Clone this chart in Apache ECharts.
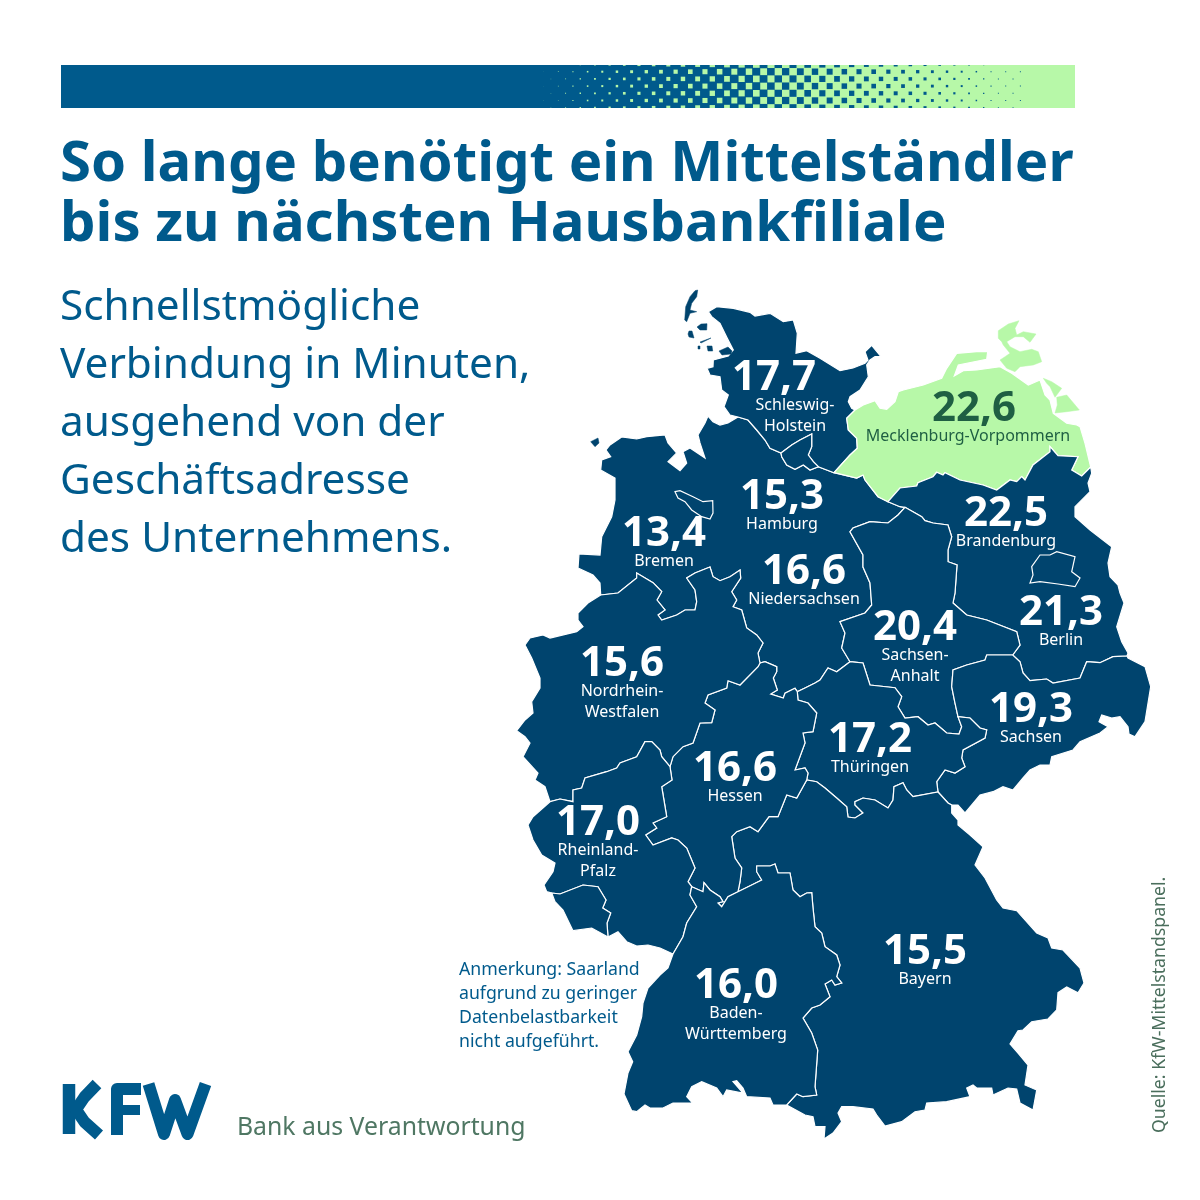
<!DOCTYPE html>
<html><head><meta charset="utf-8">
<style>html,body{margin:0;padding:0;background:#fff}#c{width:1200px;height:1200px}</style>
<script src="https://cdn.jsdelivr.net/npm/echarts@6/dist/echarts.min.js"></script>
</head><body><div id="c"></div>
<script>
// ---- data ----
const regionNames = ['Schleswig-Holstein','Mecklenburg-Vorpommern','Hamburg','Brandenburg','Bremen','Niedersachsen','Sachsen-Anhalt','Berlin','Nordrhein-Westfalen','Sachsen','Thüringen','Hessen','Rheinland-Pfalz','Bayern','Baden-Württemberg'];
const regionValues = [17.7,22.6,15.3,22.5,13.4,16.6,20.4,21.3,15.6,19.3,17.2,16.6,17.0,15.5,16.0];
const regionLines = {'Schleswig-Holstein':['Schleswig-','Holstein'],'Sachsen-Anhalt':['Sachsen-','Anhalt'],'Nordrhein-Westfalen':['Nordrhein-','Westfalen'],'Rheinland-Pfalz':['Rheinland-','Pfalz'],'Baden-Württemberg':['Baden-','Württemberg']};
const titleLines = ['So lange benötigt ein Mittelständler','bis zu nächsten Hausbankfiliale'];
const subtitleLines = ['Schnellstmögliche','Verbindung in Minuten,','ausgehend von der','Geschäftsadresse','des Unternehmens.'];
const noteLines = ['Anmerkung: Saarland','aufgrund zu geringer','Datenbelastbarkeit','nicht aufgeführt.'];
const sourceText = 'Quelle: KfW-Mittelstandspanel.';
const claimText = 'Bank aus Verantwortung';

// ---- map geometry: shared borders ----
const coastSH=[[738,417],[730,415],[724,406.7],[728.3,395],[721.7,390],[720,376.7],[710,375],[707,368.3],[713,366.7],[713.3,360],[728.3,356],[733.3,350],[727.3,338.3],[720,323.3],[711.7,316.7],[708.3,311.7],[716.7,306.7],[733.3,308.3],[750,312.3],[755,316],[770,313.3],[783.3,321.7],[793.3,320],[797.3,333.3],[796,353.3],[806.7,350.7],[820,358.3],[840,370.7],[853,368],[865,363.3],[868,360],[865,351.7],[871.7,345.3],[881,356.7],[875,356.7],[870,360],[866.7,365],[868.3,376.7],[860,390],[850,396.7],[848.3,401.7],[851.7,408.3],[855,410]];
const shMv=[[855,410],[846.7,418.3],[848.3,430],[856.7,438.3],[857.3,448.3],[850,455],[834,472.7]];
const shNdsW=[[738,417],[748,420],[756.7,430],[765,440],[770,448.3],[781,453]];
const hamN=[[781,453],[791.7,445],[800,440],[811.7,434],[811.7,446.7],[808.3,455],[813.3,461.7],[818.3,466.7]];
const hamS=[[818.3,466.7],[810,470],[803.3,465],[795,469.3],[786.7,465],[781.7,456.7],[781,453]];
const shNdsE=[[818.3,466.7],[834,472.7]];
const coastNds=[[738,417],[728,423],[720,425],[713,421.7],[708,416],[705,423],[698,435],[700,443],[705,458],[690,448],[683,451.7],[686.7,463],[680,470.7],[668,461.7],[676.7,453],[668,443],[665,435],[646.7,436.7],[636.7,439],[621.7,437],[610,445],[606,450],[610.7,456.7],[601.7,460],[600.7,470],[615,478],[615,500],[611.7,516.7],[601.7,536.7],[600,555],[579,554],[578,568],[593,575],[600,583],[600.7,595]];
const ndsNrw=[[600.7,595],[618,593],[636.7,578],[636.7,573],[643,576.7],[653,582.7],[661.7,591.7],[657,600],[665,610],[658,615],[661.7,620],[676.7,615],[685,610],[695,610],[696.7,601.7],[695,590],[686.7,578],[695,573],[710,567],[713,576.7],[720,580.7],[730,576.7],[740,570],[740.7,578],[731.7,591.7],[736.7,600],[733,606.7],[741.7,610],[746.7,628],[756.7,635],[763,643],[758,653],[760,663]];
const ndsHe=[[760,663],[765,661.7],[776.7,666.7],[776.7,671.7],[773.3,678],[777.3,690],[770.7,694],[783.3,698],[785,693.3],[795,688.3],[797.3,691.7]];
const ndsTh=[[797.3,691.7],[805,688],[815,683],[820,680],[828,668],[836.7,671.7],[850,661.7]];
const ndsSt=[[850,661.7],[841.7,648],[845,633],[840,621.7],[865,613],[871.7,605],[870,583],[863,567],[863,555],[850,531.7],[853,528],[870,521.7],[888,523],[898,515],[905,507.3]];
const ndsBb=[[905,507.3],[900,506.7],[888,501.7]];
const ndsMv=[[834,472.7],[856.7,478],[863,475],[865,480],[878,496.7],[888,501.7]];
const mvBb=[[888,501.7],[900,488],[916.7,486],[918,482.7],[933,476.7],[936.7,472.3],[943,475],[945,472.7],[960,480],[983,485],[996.7,490],[1010,480],[1016.7,481.7],[1021.7,476.7],[1025,480],[1033,465],[1050,451.7],[1050,446.7],[1058,455.7],[1078,456.7],[1071.7,470],[1081.7,476],[1090.7,467]];
const coastMv=[[1090.7,467],[1085,443.3],[1080,426.7],[1076.7,425],[1066.7,423.3],[1053.3,413.3],[1050,400],[1045,395],[1040,380],[1028.3,385],[1011.7,373.3],[1000,366.7],[976.7,370],[963.3,370.7],[954.3,376],[958.3,365],[986.7,359.3],[987.7,351.7],[976.7,351.7],[956.7,353.3],[946.7,368.3],[941.7,378.3],[923.3,385],[903.3,390],[898.3,391.7],[895,401.7],[886.7,409.3],[880,408.3],[875,400.7],[863.3,405],[855,410]];
const ruegen=[[998.3,330.7],[1008.3,324],[1019,320.7],[1015,328.3],[1016.7,335],[1023.3,331.7],[1036,334],[1030,342.3],[1023.3,336.7],[1015,336.7],[1006.7,341.7],[1010,346.7],[1020,351.7],[1031.7,349.3],[1038.3,351.7],[1041.7,361.7],[1033.3,365],[1020,366.7],[1015,371.7],[1006.7,368.3],[1000,360],[1005,356.7],[1010,353.3],[1003.3,345],[1001.7,341.7],[998.3,338.3]];
const usedomA=[[1043.3,378.3],[1051.7,381.7],[1061.7,388.3],[1055,397.3],[1050,386.7],[1046.7,383.3]];
const usedomB=[[1056.7,397.3],[1066.7,395],[1079.3,410],[1066.7,411.7],[1055,413],[1057.3,405]];
const coastBbE=[[1090.7,467],[1091.7,473.3],[1088,483],[1090,491.7],[1075,506.7],[1075,516.7],[1090,530],[1111.7,546.7],[1108,563],[1110,576.7],[1118,585],[1120,593],[1124,603],[1116.7,626.7],[1121.7,641.7],[1128,653],[1127,656]];
const snBb=[[1127,656],[1113,656.7],[1100,662.7],[1086.7,661.7],[1080,678],[1053,683],[1046.7,679],[1030,680.7],[1023,673],[1020,661.7],[1012.7,655]];
const bbSt=[[905,507.3],[921.7,516.7],[925,520.7],[933,523],[948,525],[951.7,536.7],[948,550],[948,561.7],[957,565],[955,593],[953,603],[966.7,615],[986.7,620],[1016.7,631.7],[1020,645],[1012.7,655]];
const snSt=[[1012.7,655],[986.7,655],[985,660],[966.7,665],[953,670],[951.7,686.7],[955,703],[958,716.7]];
const stTh=[[850,661.7],[863,663],[870,685],[895,687.7],[901.7,696.7],[898,706.7],[905,718],[918,716.7],[928,725],[935,723],[946.7,733],[959,734],[961.7,726.7],[958,716.7]];
const thSn=[[958,716.7],[970,718],[980,728],[986.7,730],[985,738],[963,750],[961.7,758],[965,766.7],[955,773],[945,770],[936.7,781.7],[938,792]];
const snBy=[[938,792],[948,803],[951.7,805]];
const coastSn=[[951.7,805],[958,805],[965,813],[980,795],[993,791.7],[1003,786.7],[1013,790],[1023,778],[1030,770],[1040,765],[1050,765],[1051.7,756.7],[1073,750],[1080,741.7],[1100,733],[1108,726.7],[1099,721.7],[1101.7,715],[1111.7,718],[1120,716.7],[1128,726.7],[1129,734],[1135,736.7],[1145,721.7],[1150.7,686.7],[1145,666.7],[1128,658],[1127,656]];
const coastBy=[[951.7,805],[951.7,813],[958,820],[958,825],[970,835],[983,846.7],[975,865],[985,878],[996.7,900],[1003,908],[1016.7,910.7],[1036.7,933],[1048,938],[1051.7,948],[1063,950],[1080,968],[1084,983],[1078,992.7],[1066.7,987],[1058,992.7],[1056.7,1010],[1048,1019],[1031.7,1021.7],[1023,1030],[1018,1030.7],[1010,1044],[1018,1053],[1028,1065],[1025,1085],[1036.7,1090],[1033,1110],[1020,1103],[1016.7,1089],[1008,1088],[993,1095],[991.7,1088],[976.7,1088],[973,1085],[966.7,1088],[970,1096.7],[946.7,1101.7],[926.7,1103],[925,1110],[915,1111.7],[901.7,1121.7],[885,1126],[876.7,1115],[873,1109],[853,1106.7],[841.7,1106.7],[838,1113],[841.7,1121.7],[833,1133],[824,1139],[825,1126.7],[815,1126.7],[813,1116.7],[805,1115],[786.7,1105]];
const bwBy=[[738,891.7],[751.7,885],[761.7,880],[756.7,871.7],[756.7,866],[770,866],[775,864],[778,873],[790,873],[793,890],[800,896.7],[806.7,893],[811.7,892.7],[813,908],[815,926.7],[821.7,933],[825,946.7],[836.7,955],[840,965],[836.7,976.7],[841.7,983],[835,985],[831.7,980],[825,984],[830,996.7],[820,1005],[811.7,1008],[803,1018],[811.7,1033],[817.7,1050],[815,1086.7],[816.7,1095],[803,1096.7],[796.7,1094],[786.7,1105]];
const coastBw=[[786.7,1105],[773,1105],[770,1098],[746.7,1096.7],[743,1088],[736.7,1080.7],[733,1081.7],[743,1093],[726.7,1090],[723,1096.7],[716.7,1088],[701.7,1081.7],[691.7,1086.7],[686.7,1096.7],[692.7,1103],[673,1103],[663,1108],[650,1108],[645,1105],[636.7,1111.7],[631.7,1110.7],[624,1094],[628,1073],[632.7,1061.7],[628,1051.7],[636.7,1035],[641.7,1016.7],[643,1003],[648,988],[660,975],[668,968],[673,954]];
const rpBw=[[691.7,886.7],[690,895],[696.7,906.7],[686.7,923],[683,936.7],[673,954]];
const heBw=[[691.7,886.7],[703,891.7],[704,882.7],[710,890],[720,896.7],[723,901.7],[718,903],[721.7,906.7],[728,896.7],[738,891.7]];
const heBy=[[738,891.7],[740,881.7],[741.7,868],[735,858],[731.7,836.7],[736.7,831.7],[750,826.7],[758,831.7],[769,816.7],[778,816.7],[786.7,795],[796.7,798],[806.7,780]];
const heTh=[[797.3,691.7],[798,700],[808,703],[816.7,713],[813,731.7],[803,733],[805,743],[795,770],[805,768],[808,773],[806.7,780]];
const thBy=[[806.7,780],[816.7,781.7],[825,788],[836.7,798],[846.7,806.7],[848,817],[855,818],[863,813],[855,805],[855,801.7],[863,798],[875,800],[888,808],[893,800],[894,786.7],[903,782.7],[906.7,790],[913,796.7],[938,792]];
const nrwHe=[[670,766.7],[673,756.7],[683,746.7],[693,743],[700,723],[711.7,722.7],[715,710],[705,703],[708,695],[726.7,688],[728,680.7],[740,685],[758,666.7],[760,663]];
const rpHe=[[670,766.7],[672,780],[661.7,786.7],[666.7,816.7],[653,823],[656.7,828],[645.7,835],[653,845],[671.7,838],[678,840],[686.7,848],[695,868],[688,881.7],[691.7,886.7]];
const nrwRp=[[550,801.7],[560,799],[573,801.7],[573,790],[581.7,788],[585,778],[606.7,771.7],[616.7,768],[620,763],[636.7,756.7],[645,741.7],[651.7,741.7],[660,750],[661.7,756.7],[670,766.7]];
const coastNrw=[[600.7,595],[588,603],[578,613],[578,620],[583,626.7],[576.7,631.7],[550,638],[543,635],[530,638],[525,645],[531.7,658],[540,678],[540,688],[531.7,701.7],[533,713],[525,720],[516.7,730.7],[525,736.7],[530,743],[523,756.7],[538,773],[535,780],[545,786.7],[550,801.7]];
const coastRp=[[550,801.7],[533,816.7],[528,825],[533,840],[541.7,855],[555,863],[553,871.7],[544,885],[546.7,891.7],[551.7,893]];
const saRp=[[551.7,893],[560,894],[583,885],[598,886.7],[606,900],[602.7,908],[610.7,913],[607,923],[608,937]];
const coastSa=[[608,937],[591.7,928],[573,930.7],[563,910],[555,901.7],[551.7,893]];
const coastRpS=[[608,937],[618,931.7],[626.7,941.7],[636.7,946],[648,945],[660,948],[673,954]];
const bremen=[[675,491.7],[680,490.7],[693,496.7],[703,501.7],[712.7,500.7],[713,513],[710,519],[701.7,516.7],[691.7,510],[685,501.7],[678,498]];
const berlin=[[1031.7,566.7],[1040,555],[1050,555],[1056.7,551.7],[1075,556.7],[1071.7,571.7],[1080,578],[1075,586.7],[1058,584],[1040,581.7],[1030,583],[1033,575]];
const sylt=[[697.7,290],[696.7,296.7],[691.7,303.3],[690,310],[696.7,311.7],[690,313.3],[686.7,321.7],[684.7,320],[685.7,306.7],[690,296.7],[695,290.7]];
const foehr=[[701,324],[707,323.7],[706.7,330],[700,330],[697,327]];
const amrum=[[689,331],[692,331],[694,338],[689,337],[688,334]];
const pellworm=[[707,346],[712,346],[712.7,351],[708,351]];
const nordstrand=[[719,351],[728,347],[732,351],[731,354],[722,355]];
const halligA=[[700,342],[711,338],[712,339],[701,343]];
const halligB=[[698,346],[700,346],[700,349],[698,349]];
const borkum=[[590.7,441.7],[598,438],[599,443],[595,446.7]];

const rev=a=>a.slice().reverse();
const ring=(...parts)=>{const r=[].concat(...parts);r.push(r[0]);return r.map(p=>[p[0],-p[1]]);};
const closed=a=>ring(a);
const shapes={
 'Niedersachsen':[ring(coastNds,ndsNrw,ndsHe,ndsTh,ndsSt,ndsBb,rev(ndsMv),rev(shNdsE),hamS,rev(shNdsW))],
 'Schleswig-Holstein':[ring(coastSH,shMv,rev(shNdsE),rev(hamN),rev(shNdsW))],
 'Mecklenburg-Vorpommern':[ring(ndsMv,mvBb,coastMv,shMv)],
 'Hamburg':[ring(hamN,hamS)],
 'Bremen':[closed(bremen)],
 'Brandenburg':[ring(rev(ndsBb),bbSt,rev(snBb),rev(coastBbE),rev(mvBb))],
 'Berlin':[closed(berlin)],
 'Sachsen-Anhalt':[ring(rev(ndsSt),stTh,rev(snSt),rev(bbSt))],
 'Sachsen':[ring(snSt,thSn,snBy,coastSn,snBb)],
 'Thüringen':[ring(rev(ndsTh),heTh,thBy,rev(thSn),rev(stTh))],
 'Bayern':[ring(heBy,thBy,snBy,coastBy,rev(bwBy))],
 'Hessen':[ring(nrwHe,ndsHe,heTh,rev(heBy),rev(heBw),rev(rpHe))],
 'Nordrhein-Westfalen':[ring(rev(ndsNrw),coastNrw,nrwRp,nrwHe)],
 'Rheinland-Pfalz':[ring(coastRp,saRp,coastRpS,rev(rpBw),rev(rpHe),rev(nrwRp))],
 'Saarland':[ring(saRp,coastSa)],
 'Baden-Württemberg':[ring(heBw,bwBy,coastBw,rev(rpBw))],
 'Nordseeinseln':[closed(sylt),closed(foehr),closed(amrum),closed(pellworm),closed(nordstrand),closed(halligA),closed(halligB),closed(borkum)],
 'Ostseeinseln':[closed(ruegen),closed(usedomA),closed(usedomB)]
};
// label anchor of every region (block centre)
const anchors={'Schleswig-Holstein':[795,399],'Mecklenburg-Vorpommern':[968,420],'Hamburg':[782,508],'Brandenburg':[1006,525],'Bremen':[664,545],'Niedersachsen':[804,583],'Sachsen-Anhalt':[915,649],'Berlin':[1061,624],'Nordrhein-Westfalen':[622,685],'Sachsen':[1031,721],'Thüringen':[870,751],'Hessen':[735,780],'Rheinland-Pfalz':[598,844],'Bayern':[925,963],'Baden-Württemberg':[736,1007],'Saarland':[580,910],'Nordseeinseln':[700,330],'Ostseeinseln':[1020,350]};

const features=Object.keys(shapes).map(name=>({type:'Feature',properties:{name,cp:[anchors[name][0],-anchors[name][1]]},geometry:{type:'MultiPolygon',coordinates:shapes[name].map(r=>[r])}}));
echarts.registerMap('germany',{type:'FeatureCollection',features});
let xs=[],ys=[];Object.values(shapes).forEach(rs=>rs.forEach(r=>r.forEach(p=>{xs.push(p[0]);ys.push(-p[1]);})));
const mapBox={left:Math.min(...xs),top:Math.min(...ys),width:Math.max(...xs)-Math.min(...xs),height:Math.max(...ys)-Math.min(...ys)};

// ---- colours / styles ----
const NAVY='#00446E',BLUE='#005A8C',GREEN='#B7F8A8',DARKGREEN='#1F5F43',CLAIM='#4F7763';
const FONT='"Noto Sans"';
const fmt=v=>v.toFixed(1).replace('.',',');
const mapData=regionNames.map((name,i)=>{
  const hi=name==='Mecklenburg-Vorpommern';
  const lines=regionLines[name]||[name];
  const vStyle=name==='Schleswig-Holstein'?'vs':(hi?'vm':'v');
  return {name,value:regionValues[i],itemStyle:{areaColor:hi?GREEN:NAVY},
    label:{show:true,formatter:`{${vStyle}|${fmt(regionValues[i])}}\n`+lines.map(l=>`{n|${l}}`).join('\n'),
      rich:{v:{color:'#fff'},vs:{color:'#fff'},vm:{color:DARKGREEN},n:{color:hi?DARKGREEN:'#fff'}}}};
});
mapData.push({name:'Saarland',value:null,itemStyle:{areaColor:NAVY},label:{show:false}});
mapData.push({name:'Nordseeinseln',value:null,itemStyle:{areaColor:NAVY,borderColor:NAVY,borderWidth:0.5},label:{show:false}});
mapData.push({name:'Ostseeinseln',value:null,itemStyle:{areaColor:GREEN,borderColor:GREEN,borderWidth:0.5},label:{show:false}});

// ---- banner halftone ----
const MID=782;
const bannerEls=[{type:'rect',shape:{x:61,y:65,width:1014,height:43},style:{fill:GREEN},silent:true},
  {type:'rect',shape:{x:61,y:65,width:MID-61,height:43},style:{fill:BLUE},silent:true}];
const P=14.67,rowH=7.2;
for(let k=0;k<=6;k++){const cy=64.5+k*rowH;
  for(let c=0;c<34;c++){
    const gx=543.6+c*P+(k%2?0:P/2);       // green squares
    if(gx<MID){const s=7.4*(gx-535)/(MID-535);
      const y0=Math.max(65,cy-s/2),y1=Math.min(108,cy+s/2);
      if(y1>y0)bannerEls.push({type:'rect',shape:{x:gx-s/2,y:y0,width:s,height:y1-y0},style:{fill:GREEN},silent:true});}
    const bx=543.6+c*P+(k%2?P/2:0);       // blue squares
    if(bx>=MID&&bx<1024){const s=Math.max(1,7.4*(1027-bx)/(1027-MID));
      const y0=Math.max(65,cy-s/2),y1=Math.min(108,cy+s/2);
      if(y1>y0)bannerEls.push({type:'rect',shape:{x:bx-s/2,y:y0,width:s,height:y1-y0},style:{fill:BLUE},silent:true});}
  }
}
const stroke=(pts,w)=>({type:'polyline',shape:{points:pts},style:{stroke:BLUE,lineWidth:w,fill:null,lineJoin:'round',lineCap:'butt'},silent:true});
const logoEls=[
 stroke([[69,1084],[69,1134]],12.5),
 stroke([[97,1084],[84.5,1097],[76,1109.5],[84.5,1122],[99,1135]],12),
 stroke([[117,1135],[117,1089],[141,1089]],12),
 stroke([[122,1110],[140,1110]],10),
 stroke([[148.5,1084],[164,1134],[175,1100],[187.5,1134],[205.5,1084]],12)
];

const titles=[
 {text:titleLines.join('\n'),left:60,top:135,textStyle:{fontFamily:FONT,fontWeight:'bold',fontSize:56.3,lineHeight:60,color:BLUE}},
 {text:subtitleLines.join('\n'),left:60,top:279,textStyle:{fontFamily:FONT,fontWeight:'normal',fontSize:42.3,lineHeight:58,color:BLUE}},
 {text:noteLines.join('\n'),left:459,top:958,textStyle:{fontFamily:FONT,fontWeight:'normal',fontSize:17.7,lineHeight:24,color:BLUE}},
 {text:claimText,left:237,top:1110,textStyle:{fontFamily:FONT,fontWeight:'normal',fontSize:24.8,lineHeight:36,color:CLAIM}}
];
titles.forEach(t=>t.padding=0);

const chart=echarts.init(document.getElementById('c'),null,{renderer:'canvas',width:1200,height:1200});
const vBase={fontFamily:FONT,fontSize:42,fontWeight:'bold',lineHeight:33,align:'center'};
chart.setOption({
 animation:false,backgroundColor:'#fff',
 title:titles,
 tooltip:{show:false},
 series:[{type:'map',map:'germany',aspectScale:1,roam:false,silent:true,selectedMode:false,
   left:mapBox.left,top:mapBox.top,width:mapBox.width,height:mapBox.height,
   itemStyle:{areaColor:NAVY,borderColor:'#fff',borderWidth:1.2},
   label:{show:true,fontFamily:FONT,rich:{
     v:vBase,
     vs:{...vBase,padding:[0,42,0,0]},
     vm:{...vBase,padding:[0,0,0,12]},
     n:{fontFamily:FONT,fontSize:16,lineHeight:21,align:'center'}}},
   data:mapData}],
 graphic:[...bannerEls,...logoEls,
  {type:'text',x:1160,y:1133,rotation:Math.PI/2,style:{text:sourceText,fontFamily:FONT,fontSize:17.7,fill:'#4A6E5C',textAlign:'left',textVerticalAlign:'middle'},silent:true}]
});
</script></body></html>
